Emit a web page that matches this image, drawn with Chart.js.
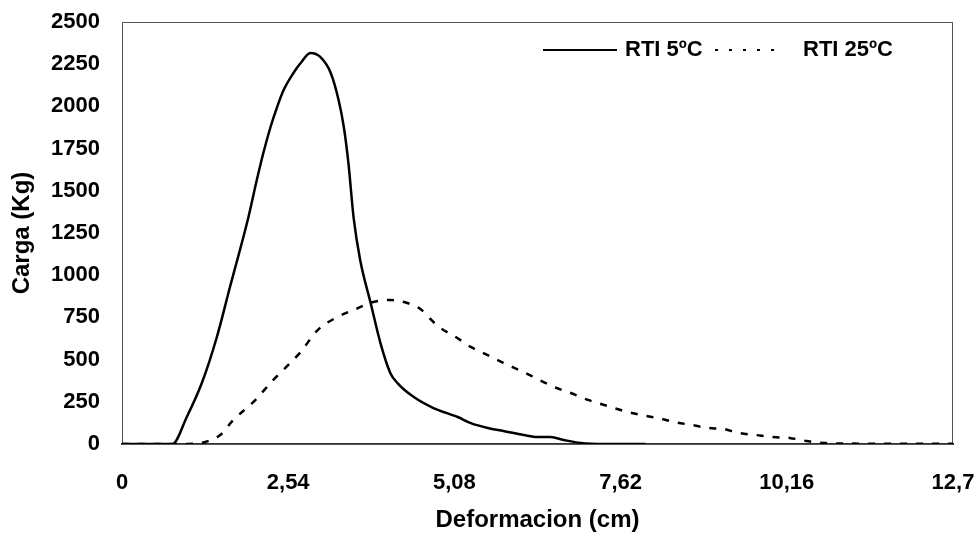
<!DOCTYPE html>
<html>
<head>
<meta charset="utf-8">
<title>Carga vs Deformacion</title>
<script src="https://cdn.jsdelivr.net/npm/chart.js@4.4.1/dist/chart.umd.min.js"></script>
<style>
  body { margin: 0; background: #fff; }
  #wrap { width: 979px; height: 540px; position: relative; }
</style>
</head>
<body>
<div id="wrap"><canvas id="grafico"></canvas></div>
<script>
// RTI 5ºC (linea continua)
const rti5X = [0, 0.5, 0.77, 0.99, 1.22, 1.45, 1.65, 1.93, 2.06, 2.16, 2.27, 2.37, 2.47, 2.62, 2.73, 2.88,
  3.03, 3.19, 3.31, 3.39, 3.46, 3.54, 3.64, 3.80, 3.95, 4.10, 4.21, 4.46, 4.76, 5.13, 5.33, 5.59,
  5.83, 6.14, 6.35, 6.55, 6.75, 7.01, 7.37, 8.0];
const rti5Y = [0, 0, 0, 160, 361, 634, 930, 1340, 1564, 1724, 1878, 1996, 2097, 2198, 2257, 2316,
  2293, 2198, 2038, 1878, 1665, 1340, 1090, 835, 598, 421, 361, 278, 213, 160, 124, 95,
  77, 53, 41, 41, 24, 6, 0, 0];

// RTI 25ºC (linea punteada)
const rti25X = [0, 1.0, 1.27, 1.50, 1.70, 2.01, 2.31, 2.57, 2.73, 2.99, 3.29, 3.54, 3.84, 4.10, 4.36, 4.56,
  4.76, 4.87, 5.10, 5.33, 5.59, 5.83, 6.13, 6.35, 6.60, 6.86, 7.12, 7.37, 7.67, 7.93, 8.19, 8.44,
  8.70, 8.96, 9.19, 9.43, 9.69, 9.95, 10.20, 10.46, 10.72, 11.5, 12.7];
const rti25Y = [0, 0, 12, 53, 142, 249, 379, 480, 545, 675, 752, 794, 841, 853, 835, 800,
  723, 687, 634, 575, 527, 480, 427, 385, 338, 302, 261, 231, 196, 172, 154, 130,
  113, 95, 89, 65, 53, 41, 36, 18, 6, 2, 2];

const seriesLabels = ['RTI 5ºC', 'RTI 25ºC'];
const xTickValues = [0, 2.54, 5.08, 7.62, 10.16, 12.7];
const xTickLabels = ['0', '2,54', '5,08', '7,62', '10,16', '12,7'];

const toPoints = (xs, ys) => xs.map((x, i) => ({ x: x, y: ys[i] }));

Chart.defaults.font.family = "'Liberation Sans', Arial, sans-serif";
Chart.defaults.font.weight = 'bold';
Chart.defaults.color = '#000';

// marco alrededor del area del grafico
const marco = {
  id: 'marco',
  beforeDatasetsDraw(chart) {
    const { ctx, chartArea: a } = chart;
    ctx.save();
    ctx.strokeStyle = '#555';
    ctx.lineWidth = 1;
    ctx.strokeRect(a.left + 0.5, a.top + 0.5, a.right - a.left - 1, a.bottom - a.top);
    ctx.restore();
  }
};

// leyenda dentro del area, arriba a la derecha
// [inicio muestra, largo muestra, inicio texto] relativos al borde izquierdo del area
const leyendaPos = [[421, 74, 503], [593, 68, 681]];
const leyenda = {
  id: 'leyenda',
  afterDraw(chart) {
    const { ctx, chartArea: a } = chart;
    const y = a.top + 28;
    ctx.save();
    ctx.font = "bold 22px 'Liberation Sans', Arial, sans-serif";
    ctx.fillStyle = '#000';
    ctx.textBaseline = 'middle';
    ctx.strokeStyle = '#000';
    chart.data.datasets.forEach((ds, i) => {
      const [x0, w, xt] = leyendaPos[i];
      ctx.lineWidth = 2;
      ctx.setLineDash(i === 0 ? [] : [3, 11]);
      ctx.beginPath();
      ctx.moveTo(a.left + x0, y);
      ctx.lineTo(a.left + x0 + w, y);
      ctx.stroke();
      ctx.fillText(ds.label, a.left + xt, y);
    });
    ctx.restore();
  }
};

const data = {
  datasets: [{
    label: seriesLabels[0],
    data: toPoints(rti5X, rti5Y),
    borderColor: '#000',
    borderWidth: 2.5,
    pointRadius: 0,
    cubicInterpolationMode: 'monotone'
  }, {
    label: seriesLabels[1],
    data: toPoints(rti25X, rti25Y),
    borderColor: '#000',
    borderWidth: 2.5,
    borderDash: [7, 9],
    pointRadius: 0,
    cubicInterpolationMode: 'monotone'
  }]
};

const config = {
  type: 'line',
  data: data,
  plugins: [marco, leyenda],
  options: {
    responsive: true,
    maintainAspectRatio: false,
    animation: false,
    layout: { padding: { top: 22, right: 26, left: 0, bottom: 0 } },
    plugins: {
      legend: { display: false },
      tooltip: { enabled: false }
    },
    scales: {
      x: {
        type: 'linear',
        min: 0,
        max: 12.7,
        afterBuildTicks: (scale) => {
          scale.ticks = xTickValues.map(v => ({ value: v }));
        },
        afterFit: (scale) => {
          scale.height = 96;
          scale.paddingLeft = 0;
          scale.paddingRight = 0;
        },
        ticks: {
          padding: 26,
          maxRotation: 0,
          font: { size: 22 },
          callback: (v) => xTickLabels[xTickValues.indexOf(v)]
        },
        grid: { display: false, drawTicks: false },
        border: { display: true, color: '#333', width: 2 },
        title: {
          display: true,
          text: 'Deformacion (cm)',
          font: { size: 24 },
          padding: { top: 0, bottom: 5 }
        }
      },
      y: {
        min: 0,
        max: 2500,
        afterFit: (scale) => {
          scale.width = 122;
          scale.paddingTop = 0;
          scale.paddingBottom = 0;
        },
        ticks: {
          stepSize: 250,
          padding: 22,
          font: { size: 22 },
          callback: (v) => String(v)
        },
        grid: { display: false, drawTicks: false },
        border: { display: false },
        title: {
          display: true,
          text: 'Carga (Kg)',
          font: { size: 24 },
          padding: { top: 8, bottom: 0 }
        }
      }
    }
  }
};

let grafico = document.getElementById('grafico').getContext('2d');
new Chart(grafico, config);
</script>
</body>
</html>
